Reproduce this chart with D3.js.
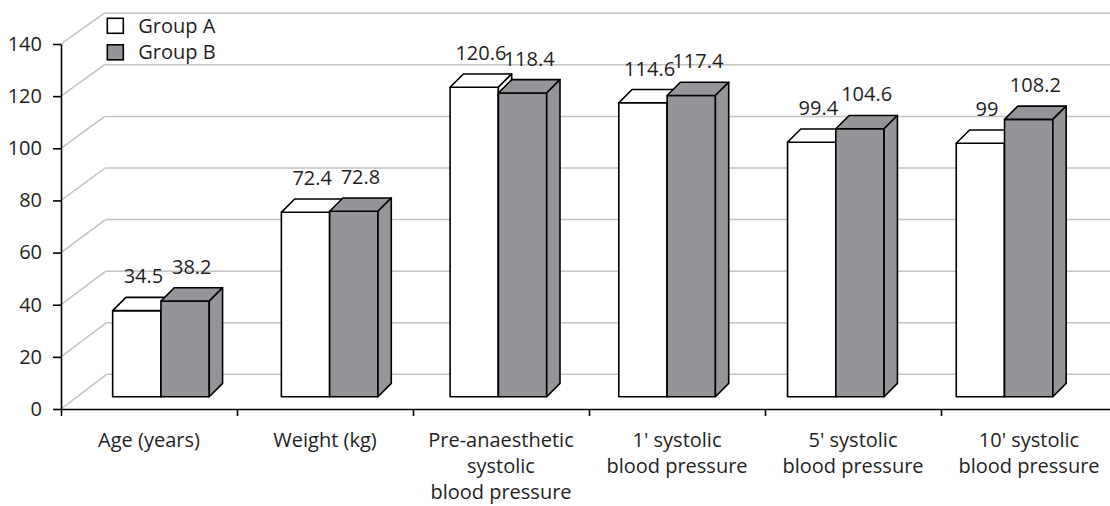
<!DOCTYPE html>
<html>
<head>
<meta charset="utf-8">
<script src="https://cdnjs.cloudflare.com/ajax/libs/d3/7.8.5/d3.min.js"></script>
<style>
  body { margin: 0; background: #fff; }
  svg text { font-family: "Open Sans", "Noto Sans", sans-serif; fill: #1e1e1e; }
</style>
</head>
<body>
<svg id="canvas"></svg>
<script>
let categories = [
  "Age (years)",
  "Weight (kg)",
  "Pre-anaesthetic\nsystolic\nblood pressure",
  "1' systolic\nblood pressure",
  "5' systolic\nblood pressure",
  "10' systolic\nblood pressure",
];
let groups = ["Group A", "Group B"];
let groupA = [34.5, 72.4, 120.6, 114.6, 99.4, 99];
let groupB = [38.2, 72.8, 118.4, 117.4, 104.6, 108.2];
let yTicks = [0, 20, 40, 60, 80, 100, 120, 140];

let width = 1110,
  height = 506,
  fontSize = 20,
  depth = 13.3;

let fills = { "Group A": "#ffffff", "Group B": "#939598" };

let canvas = d3.select("#canvas").attr("width", width).attr("height", height);

// front plane (axes)
let yScale = d3.scaleLinear().domain([0, 140]).range([409, 44]);
let xAxisScale = d3.scaleLinear().domain([0, categories.length]).range([61, 1117]);
let xBand = d3.scaleBand().domain(categories).range([61, 1117]);

// back wall, slightly smaller because of the perspective
let yBack = d3.scaleLinear().domain([0, 140]).range([374.3, 13.3]);
let xBack = d3.scaleLinear().domain([0, 140]).range([106.7, 104]);

// bars sit a little behind the front plane
let yBar = d3.scaleLinear().domain([0, 140]).range([400.2, 36.9]);
let barFloor = 396.7;
let xBar = d3
  .scaleBand()
  .domain(categories)
  .range([76.6, 1088.9])
  .paddingInner(0.4274)
  .paddingOuter(0.2137);
let xGroup = d3.scaleBand().domain(groups).range([0, xBar.bandwidth()]);

let drawGrid = () => {
  let grid = canvas.append("g").attr("stroke", "#c4c4c4").attr("stroke-width", 1.5).attr("fill", "none");
  grid
    .selectAll("line.h")
    .data(yTicks)
    .enter()
    .append("line")
    .attr("x1", (d) => xBack(d))
    .attr("x2", width)
    .attr("y1", (d) => yBack(d))
    .attr("y2", (d) => yBack(d));
  grid
    .selectAll("line.d")
    .data(yTicks)
    .enter()
    .append("line")
    .attr("x1", xAxisScale(0))
    .attr("y1", (d) => yScale(d))
    .attr("x2", (d) => xBack(d))
    .attr("y2", (d) => yBack(d));
};

let drawBars = () => {
  let rows = [];
  categories.forEach((c, i) => {
    rows.push({ cat: c, group: "Group A", value: groupA[i] });
    rows.push({ cat: c, group: "Group B", value: groupB[i] });
  });

  let bar = canvas
    .append("g")
    .selectAll("g")
    .data(rows)
    .enter()
    .append("g")
    .attr("fill", (d) => fills[d.group])
    .attr("stroke", "#000")
    .attr("stroke-width", 1.6)
    .attr("stroke-linejoin", "round");

  let x0 = (d) => xBar(d.cat) + xGroup(d.group);
  let x1 = (d) => x0(d) + xGroup.bandwidth();

  bar
    .append("rect")
    .attr("x", x0)
    .attr("y", (d) => yBar(d.value))
    .attr("width", xGroup.bandwidth())
    .attr("height", (d) => barFloor - yBar(d.value));

  // top face
  bar.append("path").attr("d", (d) => {
    let t = yBar(d.value);
    return `M${x0(d)},${t}L${x0(d) + depth},${t - depth}L${x1(d) + depth},${t - depth}L${x1(d)},${t}Z`;
  });

  // right face
  bar.append("path").attr("d", (d) => {
    let t = yBar(d.value);
    return `M${x1(d)},${t}L${x1(d) + depth},${t - depth}L${x1(d) + depth},${barFloor - depth}L${x1(d)},${barFloor}Z`;
  });

  canvas
    .append("g")
    .selectAll("text")
    .data(rows)
    .enter()
    .append("text")
    .attr("x", (d) => x0(d) + xGroup.bandwidth() / 2 + depth / 2)
    .attr("y", (d) => yBar(d.value) - depth - 14)
    .attr("text-anchor", "middle")
    .attr("font-size", fontSize)
    .text((d) => d.value);
};

let drawAxes = () => {
  let yAxis = d3.axisLeft(yScale).tickValues(yTicks).tickSize(8).tickSizeOuter(0).tickPadding(11);
  let gy = canvas.append("g").attr("transform", "translate(" + xAxisScale(0) + ",0)").call(yAxis);
  gy.selectAll("text").attr("font-size", fontSize).style("font-family", null);

  let xAxis = d3
    .axisBottom(xAxisScale)
    .tickValues(d3.range(categories.length + 1))
    .tickSize(7)
    .tickSizeOuter(0)
    .tickFormat("");
  canvas.append("g").attr("transform", "translate(0," + yScale(0) + ")").call(xAxis);

  canvas.selectAll(".domain, .tick line").attr("stroke", "#000").attr("stroke-width", 1.6);

  let labels = canvas
    .append("g")
    .selectAll("text")
    .data(categories)
    .enter()
    .append("text")
    .attr("text-anchor", "middle")
    .attr("font-size", fontSize)
    .attr("x", (d) => xBand(d) + xBand.bandwidth() / 2)
    .attr("y", 447);
  labels
    .selectAll("tspan")
    .data((d) => d.split("\n"))
    .enter()
    .append("tspan")
    .attr("x", function () {
      return this.parentNode.getAttribute("x");
    })
    .attr("dy", (d, i) => (i === 0 ? 0 : 26))
    .text((d) => d);
};

let drawLegend = () => {
  let legend = canvas
    .append("g")
    .selectAll("g")
    .data(groups)
    .enter()
    .append("g")
    .attr("transform", (d, i) => "translate(107.3," + (18.3 + i * 26.5) + ")");
  legend
    .append("rect")
    .attr("width", 16)
    .attr("height", 15)
    .attr("fill", (d) => fills[d])
    .attr("stroke", "#000")
    .attr("stroke-width", 1.6);
  legend
    .append("text")
    .attr("x", 31)
    .attr("y", 14.5)
    .attr("font-size", fontSize)
    .text((d) => d);
};

drawGrid();
drawBars();
drawAxes();
drawLegend();
</script>
</body>
</html>
